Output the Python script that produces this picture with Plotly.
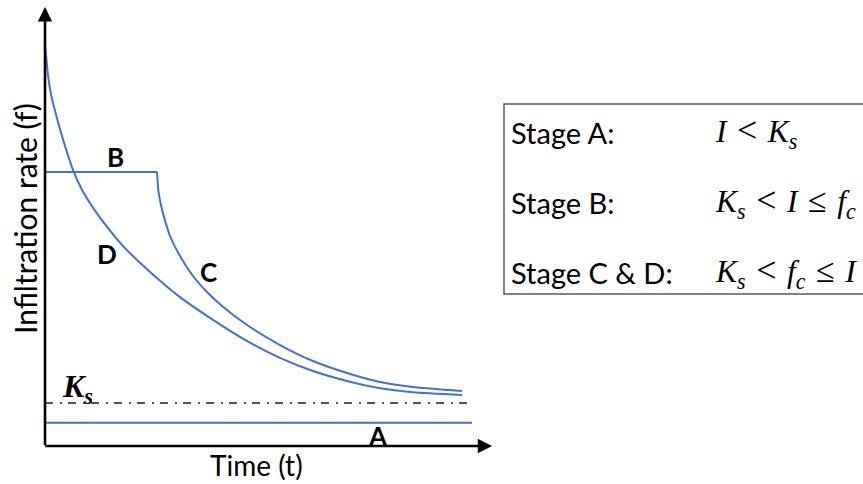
import plotly.graph_objects as go

# ---- data (time t, infiltration rate f; arbitrary units) ----
d_time = [0.00, 0.024, 0.072, 0.144, 0.240, 0.360, 0.504, 0.671, 0.887, 1.199, 1.559, 1.918,
          2.278, 2.758, 3.237, 4.029, 4.796, 5.635, 6.427, 7.242, 8.034, 8.825, 10.00]
d_rate = [10.02, 9.80, 9.30, 8.82, 8.40, 7.94, 7.44, 6.92, 6.42, 5.90, 5.40, 4.96,
          4.59, 4.14, 3.73, 3.16, 2.66, 2.21, 1.88, 1.63, 1.45, 1.35, 1.28]

b_time = [0.00, 2.686]
b_rate = [6.867, 6.867]

c_time = [2.686, 2.722, 2.782, 2.854, 2.998, 3.237, 3.549, 3.885, 4.245, 4.845, 5.635,
          6.427, 7.242, 8.034, 8.825, 10.00]
c_rate = [6.867, 6.366, 6.040, 5.739, 5.263, 4.762, 4.261, 3.860, 3.509, 3.033, 2.531,
          2.130, 1.830, 1.604, 1.479, 1.378]

ks_time = [0.00, 10.24]
ks_rate = [1.08, 1.08]

a_time = [0.00, 10.24]
a_rate = [0.58, 0.58]

x_axis_end = 10.72
y_axis_end = 11.0

LT = "&#8202;<span style='font-size:36px'>&lt;</span>&#8202;"
LE = "&#8202;<span style='font-size:34px'>≤</span>&#8202;"
stage_labels = ["Stage A:", "Stage B:", "Stage C &amp; D:"]
stage_conditions = [
    "<i>I</i> " + LT + " <i>K<sub>s</sub></i>",
    "<i>K<sub>s</sub></i> " + LT + " <i>I</i> " + LE + " <i>f<sub>c</sub></i>",
    "<i>K<sub>s</sub></i> " + LT + " <i>f<sub>c</sub></i> " + LE + " <i>I</i>",
]

BLUE = "#4472C4"
GREY = "#4A576B"
W, H = 863, 484

fig = go.Figure()
fig.add_trace(go.Scatter(x=a_time, y=a_rate, mode="lines", line=dict(color=BLUE, width=2)))
fig.add_trace(go.Scatter(x=ks_time, y=ks_rate, mode="lines",
                         line=dict(color=GREY, width=2, dash="8px,7px,2px,6px")))
fig.add_trace(go.Scatter(x=d_time, y=d_rate, mode="lines",
                         line=dict(color=BLUE, width=2, shape="spline", smoothing=0.6)))
fig.add_trace(go.Scatter(x=b_time, y=b_rate, mode="lines", line=dict(color=BLUE, width=2)))
fig.add_trace(go.Scatter(x=c_time, y=c_rate, mode="lines",
                         line=dict(color=BLUE, width=2, shape="spline", smoothing=0.6)))

ann = []
# axes with arrowheads
ann.append(dict(x=0, y=y_axis_end, ax=0, ay=-0.02, xref="x", yref="y", axref="x", ayref="y",
                text="", showarrow=True, arrowhead=2, arrowsize=1.1, arrowwidth=2.6,
                arrowcolor="black", standoff=0))
ann.append(dict(x=x_axis_end, y=0, ax=-0.03, ay=0, xref="x", yref="y", axref="x", ayref="y",
                text="", showarrow=True, arrowhead=2, arrowsize=1.1, arrowwidth=2.6,
                arrowcolor="black", standoff=0))

lab_font = dict(family="Lato", size=26, color="black")
for txt, tx, fy in [("B", 1.68, 7.24), ("D", 1.49, 4.81), ("C", 3.93, 4.36), ("A", 7.99, 0.25)]:
    ann.append(dict(x=tx, y=fy, xref="x", yref="y", text="<b>%s</b>" % txt, showarrow=False,
                    font=lab_font, xanchor="center", yanchor="middle"))
ann.append(dict(x=0.78, y=1.45, xref="x", yref="y", text="<b><i>K<sub>s</sub></i></b>",
                showarrow=False, font=dict(family="Liberation Serif", size=32, color="black"),
                xanchor="center", yanchor="middle"))

# axis titles
ann.append(dict(x=256 / W, y=1 - 465 / H, xref="paper", yref="paper", text="Time (t)",
                showarrow=False, font=dict(family="Lato", size=28, color="black"),
                xanchor="center", yanchor="middle"))
ann.append(dict(x=25 / W, y=1 - 219 / H, xref="paper", yref="paper", text="Infiltration rate (f)",
                showarrow=False, textangle=-90, font=dict(family="Lato", size=30, color="black"),
                xanchor="center", yanchor="middle"))

# stage table
row_y = [132, 202, 272]
for lbl, cond, yy in zip(stage_labels, stage_conditions, row_y):
    ann.append(dict(x=509 / W, y=1 - yy / H, xref="paper", yref="paper", text=lbl,
                    showarrow=False, font=dict(family="Lato", size=29, color="black"),
                    xanchor="left", yanchor="middle"))
    ann.append(dict(x=713 / W, y=1 - yy / H, xref="paper", yref="paper", text=cond,
                    showarrow=False, font=dict(family="Liberation Serif", size=31.5, color="black"),
                    xanchor="left", yanchor="middle"))

shapes = [dict(type="rect", xref="paper", yref="paper", x0=504 / W, x1=1.02,
               y0=1 - 294 / H, y1=1 - 104 / H, line=dict(color="#5A5A5A", width=1.5))]

fig.update_layout(
    width=W, height=H, margin=dict(l=0, r=0, t=0, b=0),
    paper_bgcolor="white", plot_bgcolor="white", showlegend=False,
    xaxis=dict(domain=[24.15 / W, 503.7 / W], range=[-0.5, 11.0], visible=False, fixedrange=True),
    yaxis=dict(domain=[1 - 465.95 / H, 1 - 1.1 / H], range=[-0.5, 11.15], visible=False, fixedrange=True),
    annotations=ann, shapes=shapes,
)

fig.write_html("out.html", config={"displayModeBar": False},
               post_script="document.body.style.margin='0px';")
